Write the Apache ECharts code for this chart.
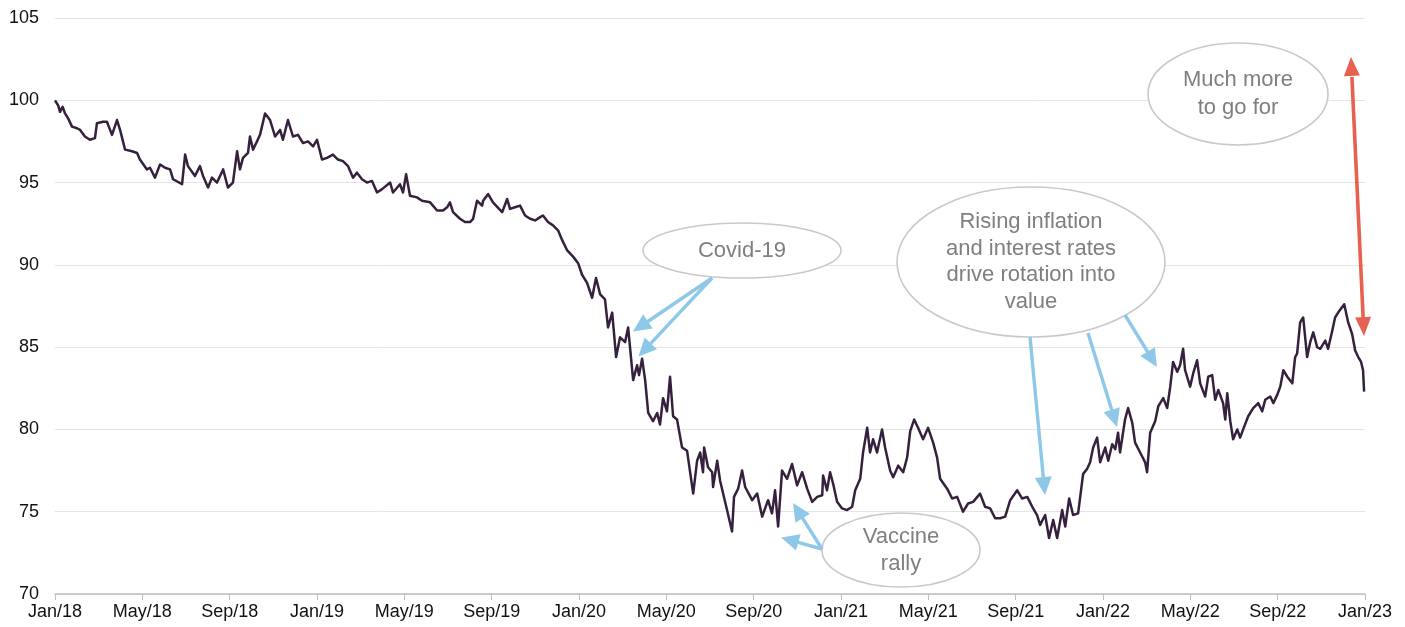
<!DOCTYPE html>
<html>
<head>
<meta charset="utf-8">
<script src="https://cdn.jsdelivr.net/npm/echarts@6/dist/echarts.min.js"></script>
<style>
  html, body { margin: 0; padding: 0; background: #ffffff; }
  #chart { width: 1405px; height: 627px; }
</style>
</head>
<body>
<div id="chart"></div>
<script>
// x positions in months since Jan 2018
const xMonths = [
  0.00,0.14,0.23,0.35,0.46,0.60,0.78,1.01,1.15,1.37,1.60,1.83,1.92,2.20,2.38,2.61,2.84,2.98,3.21,3.53,
  3.76,3.89,4.21,4.35,4.58,4.81,5.04,5.27,5.41,5.82,5.96,6.09,6.41,6.64,6.78,7.01,7.19,7.42,7.70,7.92,
  8.15,8.34,8.47,8.61,8.84,8.93,9.07,9.25,9.39,9.62,9.85,10.08,10.31,10.44,10.67,10.90,11.13,11.36,11.59,11.82,
  12.00,12.23,12.46,12.73,12.96,13.19,13.42,13.65,13.83,14.06,14.29,14.52,14.75,14.98,15.35,15.48,15.80,15.94,16.08,16.26,
  16.58,16.81,17.18,17.50,17.77,17.96,18.09,18.23,18.55,18.78,19.01,19.15,19.33,19.56,19.61,19.84,20.06,20.48,20.71,20.84,
  21.07,21.30,21.53,21.76,21.99,22.22,22.35,22.58,22.81,23.04,23.23,23.45,23.73,23.96,24.14,24.37,24.60,24.78,24.97,25.19,
  25.33,25.52,25.70,25.88,26.11,26.25,26.48,26.66,26.75,26.89,27.03,27.17,27.39,27.58,27.71,27.85,28.03,28.17,28.31,28.49,
  28.72,28.95,29.23,29.41,29.55,29.68,29.73,29.91,30.10,30.14,30.33,30.46,30.78,31.01,31.10,31.29,31.47,31.61,31.93,32.16,
  32.39,32.66,32.84,32.98,33.12,33.30,33.53,33.76,33.99,34.22,34.45,34.68,34.91,35.14,35.18,35.36,35.50,35.64,35.82,36.05,
  36.28,36.51,36.65,36.88,37.01,37.20,37.33,37.47,37.65,37.88,38.02,38.25,38.39,38.62,38.85,39.03,39.17,39.35,39.53,39.76,
  39.99,40.22,40.40,40.54,40.86,41.09,41.32,41.59,41.82,42.05,42.37,42.60,42.83,43.06,43.29,43.52,43.75,44.07,44.30,44.53,
  44.76,44.98,45.12,45.35,45.53,45.72,45.90,46.13,46.27,46.45,46.63,46.86,47.09,47.27,47.41,47.55,47.73,47.87,48.10,48.24,
  48.42,48.56,48.69,48.78,49.01,49.15,49.34,49.47,49.70,49.93,50.02,50.16,50.39,50.53,50.76,50.94,51.08,51.21,51.40,51.53,
  51.67,51.76,51.99,52.13,52.31,52.45,52.68,52.82,53.00,53.14,53.28,53.50,53.60,53.69,53.83,53.96,54.15,54.28,54.42,54.65,
  54.88,55.11,55.29,55.43,55.66,55.80,55.98,56.12,56.26,56.44,56.67,56.80,56.89,57.03,57.17,57.35,57.49,57.63,57.81,57.95,
  58.18,58.31,58.50,58.63,58.77,58.86,59.05,59.23,59.41,59.55,59.69,59.82,59.91,59.96
];
const indexValues = [
  100.0,99.7,99.3,99.6,99.2,98.9,98.4,98.3,98.2,97.8,97.6,97.7,98.6,98.7,98.7,97.9,98.8,98.2,97.0,96.9,
  96.8,96.4,95.8,95.9,95.3,96.1,95.9,95.8,95.2,94.9,96.7,96.0,95.4,96.0,95.4,94.7,95.3,95.0,95.8,94.7,
  95.0,96.9,95.8,96.5,96.8,97.8,97.0,97.5,97.9,99.2,98.8,97.8,98.2,97.6,98.8,97.8,97.9,97.4,97.5,97.2,
  97.6,96.4,96.5,96.7,96.4,96.3,96.0,95.3,95.6,95.2,95.0,95.1,94.4,94.6,95.0,94.4,94.9,94.4,95.5,94.2,
  94.1,93.9,93.8,93.3,93.3,93.5,93.8,93.2,92.8,92.6,92.6,92.8,93.9,93.6,93.9,94.3,93.8,93.2,94.0,93.4,
  93.5,93.6,93.0,92.8,92.7,92.9,93.0,92.6,92.4,92.1,91.5,90.9,90.5,90.1,89.4,88.9,88.0,89.2,88.2,87.9,
  86.2,87.1,84.4,85.6,85.3,86.2,83.0,83.9,83.3,84.3,83.0,81.0,80.5,81.0,80.3,81.9,81.1,83.2,80.8,80.6,
  78.9,78.7,76.1,78.1,78.6,77.4,78.9,77.7,77.4,76.5,78.1,76.9,75.1,73.8,75.9,76.4,77.5,76.5,75.7,76.1,
  74.7,75.7,74.9,76.3,74.1,77.5,77.0,77.9,76.6,77.4,76.4,75.6,75.9,76.0,77.2,76.3,77.4,76.7,75.6,75.2,
  75.1,75.3,76.3,77.0,78.6,80.1,78.6,79.4,78.6,80.0,78.9,77.5,77.1,77.8,77.4,78.3,79.9,80.6,80.1,79.4,
  80.1,79.2,78.3,77.0,76.4,75.8,75.9,75.0,75.5,75.6,76.1,75.3,75.2,74.6,74.6,74.7,75.7,76.3,75.8,75.9,
  75.3,74.8,74.2,74.8,73.4,74.5,73.4,75.1,74.1,75.8,74.8,74.9,77.3,77.6,78.0,78.9,79.5,78.0,78.9,78.1,
  79.1,78.8,79.8,78.6,80.6,81.3,80.4,79.2,78.6,78.0,77.4,79.8,80.5,81.4,81.9,81.3,82.6,84.1,83.5,83.9,
  84.9,83.6,82.6,83.4,84.2,82.8,82.0,83.2,83.3,81.8,82.4,81.6,80.6,82.2,80.5,79.4,80.0,79.5,80.0,80.8,
  81.3,81.6,81.1,81.8,82.0,81.6,82.1,82.6,83.6,83.2,82.8,84.4,84.6,86.5,86.8,84.4,85.3,85.9,85.0,84.9,
  85.4,84.9,86.0,86.8,87.1,87.0,87.6,86.5,85.8,84.8,84.4,84.1,83.6,82.3
];
const tickLabels = ['Jan/18','May/18','Sep/18','Jan/19','May/19','Sep/19','Jan/20','May/20',
                    'Sep/20','Jan/21','May/21','Sep/21','Jan/22','May/22','Sep/22','Jan/23'];
const yTicks = [70, 75, 80, 85, 90, 95, 100, 105];

const seriesData = xMonths.map((m, i) => [m, indexValues[i]]);

const BLUE = '#8EC8E8';
const RED = '#E8604F';
const ELLIPSE_STROKE = '#C9C9C9';
const NOTE_COLOR = '#7F7F7F';
const NOTE_FONT = '22px "Liberation Sans", Arial, sans-serif';

function arrow(x1, y1, x2, y2, color, both, L, W, lw) {
  L = L || 18; W = W || 8.5; lw = lw || 3.4;
  const dx = x2 - x1, dy = y2 - y1;
  const len = Math.sqrt(dx * dx + dy * dy);
  const ux = dx / len, uy = dy / len;
  const px = -uy, py = ux;
  const els = [];
  const bx2 = x2 - ux * L, by2 = y2 - uy * L;
  let sx = x1, sy = y1;
  els.push({ type: 'polygon', z: 100, shape: { points: [[x2, y2], [bx2 + px * W, by2 + py * W], [bx2 - px * W, by2 - py * W]] }, style: { fill: color } });
  if (both) {
    const bx1 = x1 + ux * L, by1 = y1 + uy * L;
    els.push({ type: 'polygon', z: 100, shape: { points: [[x1, y1], [bx1 + px * W, by1 + py * W], [bx1 - px * W, by1 - py * W]] }, style: { fill: color } });
    sx = bx1 + ux * 1; sy = by1 + uy * 1;
  }
  els.push({ type: 'line', z: 100, shape: { x1: sx, y1: sy, x2: bx2 + ux * 1, y2: by2 + uy * 1 }, style: { stroke: color, lineWidth: lw } });
  return els;
}

function note(cx, cy, rx, ry, lines, lineH) {
  const els = [{ type: 'ellipse', z: 90, shape: { cx: cx, cy: cy, rx: rx, ry: ry }, style: { fill: '#ffffff', stroke: ELLIPSE_STROKE, lineWidth: 1.6 } }];
  const n = lines.length;
  lines.forEach((t, i) => {
    els.push({ type: 'text', z: 95, style: { text: t, x: cx, y: cy + (i - (n - 1) / 2) * lineH, textAlign: 'center', textVerticalAlign: 'middle', font: NOTE_FONT, fill: NOTE_COLOR } });
  });
  return els;
}

const graphics = [].concat(
  note(742, 250.5, 99, 27.5, ['Covid-19'], 27),
  arrow(712, 278, 633, 331.5, BLUE),
  arrow(712, 278, 638.5, 356.5, BLUE),
  note(901, 550, 79, 37, ['Vaccine', 'rally'], 27),
  arrow(822, 549, 793, 503, BLUE),
  arrow(822, 549, 781, 537.5, BLUE),
  note(1031, 262, 134, 75, ['Rising inflation', 'and interest rates', 'drive rotation into', 'value'], 26.5),
  arrow(1030, 337, 1045, 495, BLUE),
  arrow(1088, 333, 1117, 427, BLUE),
  arrow(1125, 315, 1157, 367, BLUE),
  note(1238, 94, 90, 51, ['Much more', 'to go for'], 27.5),
  arrow(1351, 57, 1364, 336, RED, true, 19, 8, 3.6)
);

const chart = echarts.init(document.getElementById('chart'), null, { renderer: 'canvas' });
chart.setOption({
  animation: false,
  backgroundColor: '#ffffff',
  textStyle: { fontFamily: '"Liberation Sans", Arial, sans-serif' },
  grid: { left: 55, right: 40, top: 18, bottom: 33, containLabel: false },
  xAxis: {
    type: 'value',
    min: 0, max: 60, interval: 4,
    axisLine: { show: true, lineStyle: { color: '#BFBFBF', width: 1.5 } },
    axisTick: { show: true, length: 6, lineStyle: { color: '#BFBFBF', width: 1 } },
    splitLine: { show: false },
    axisLabel: {
      color: '#111', fontSize: 18, margin: 9,
      formatter: function (v) { return tickLabels[Math.round(v / 4)] || ''; }
    }
  },
  yAxis: {
    type: 'value',
    min: yTicks[0], max: yTicks[yTicks.length - 1], interval: 5,
    axisLine: { show: false },
    axisTick: { show: false },
    splitLine: { show: true, lineStyle: { color: '#E4E4E4', width: 1 } },
    axisLabel: { color: '#111', fontSize: 18, margin: 16 }
  },
  series: [{
    type: 'line',
    data: seriesData,
    showSymbol: false,
    symbol: 'none',
    lineStyle: { color: '#35203D', width: 2.5, join: 'round' },
    z: 5
  }],
  graphic: graphics
});
</script>
</body>
</html>
